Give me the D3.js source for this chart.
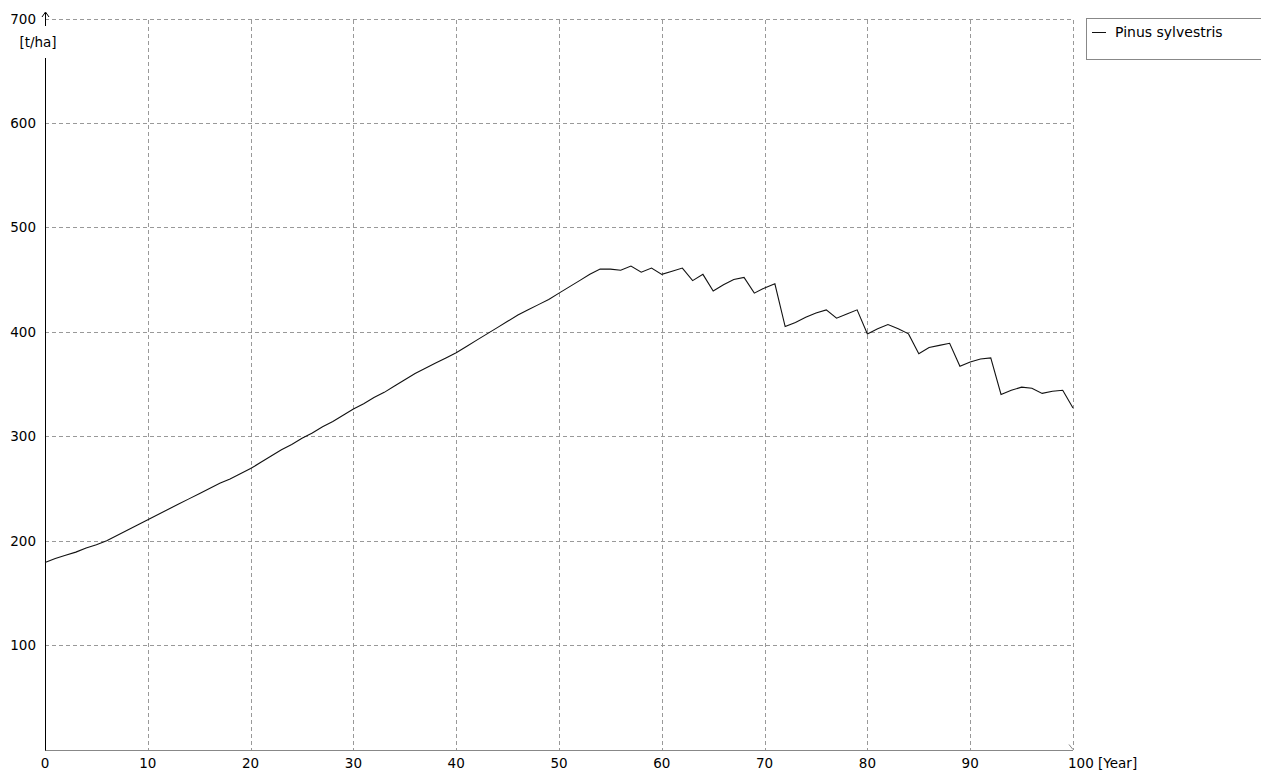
<!DOCTYPE html>
<html>
<head>
<meta charset="utf-8">
<script src="https://cdn.jsdelivr.net/npm/d3@7"></script>
<style>
  body { margin: 0; background: #fff; }
  svg text { font-family: "DejaVu Sans", sans-serif; font-size: 13px; fill: #000; }
</style>
</head>
<body>
<svg id="chart" width="1261" height="772"></svg>
<script>
// biomass of the stand, one value per simulated year
const seriesName = "Pinus sylvestris";
const biomass = [
  179, 183, 186, 189, 193, 196, 200, 205, 210, 215, 220,
  225, 230, 235, 240, 245, 250, 255, 259, 264, 269,
  275, 281, 287, 292, 298, 303, 309, 314, 320, 326,
  331, 337, 342, 348, 354, 360, 365, 370, 375, 380,
  386, 392, 398, 404, 410, 416, 421, 426, 431, 437,
  443, 449, 455, 460, 460, 459, 463, 457, 461, 455,
  458, 461, 449, 455, 439, 445, 450, 452, 437, 442,
  446, 405, 409, 414, 418, 421, 413, 417, 421, 398,
  403, 407, 403, 398, 379, 385, 387, 389, 367, 371,
  374, 375, 340, 344, 347, 346, 341, 343, 344, 327
];
const xTicks = [0, 10, 20, 30, 40, 50, 60, 70, 80, 90, 100];
const yTicks = [100, 200, 300, 400, 500, 600, 700];
const xUnit = "[Year]";
const yUnit = "[t/ha]";

// plot area
const plotLeft = 45, plotRight = 1073, plotTop = 18.5, plotBottom = 749.5;

const svg = d3.select("#chart");

const x = d3.scaleLinear().domain([0, 100]).range([plotLeft, plotRight]);
const y = d3.scaleLinear().domain([0, 700]).range([plotBottom, plotTop]);

// dashed grid
const grid = svg.append("g").attr("stroke", "#999").attr("stroke-dasharray", "4,3")
  .attr("shape-rendering", "crispEdges");
grid.selectAll(".vgrid")
  .data(xTicks.slice(1))
  .enter().append("line")
  .attr("x1", d => Math.round(x(d)) + 0.5)
  .attr("x2", d => Math.round(x(d)) + 0.5)
  .attr("y1", Math.round(y(700)) + 0.5)
  .attr("y2", plotBottom);
grid.selectAll(".hgrid")
  .data(yTicks)
  .enter().append("line")
  .attr("y1", d => Math.round(y(d)) + 0.5)
  .attr("y2", d => Math.round(y(d)) + 0.5)
  .attr("x1", plotLeft)
  .attr("x2", plotRight);

// x axis (gray, with small arrow at the end)
svg.append("line")
  .attr("x1", plotLeft).attr("x2", plotRight)
  .attr("y1", Math.round(plotBottom) + 0.5).attr("y2", Math.round(plotBottom) + 0.5)
  .attr("stroke", "#888");
svg.append("path")
  .attr("d", `M${plotRight - 4},${plotBottom - 5}L${plotRight},${plotBottom}`)
  .attr("stroke", "#888").attr("fill", "none");

// x tick labels
svg.selectAll(".xlab")
  .data(xTicks)
  .enter().append("text")
  .attr("x", d => d === 100 ? x(d) - 5 : x(d))
  .attr("y", 768)
  .attr("text-anchor", d => d === 100 ? "start" : "middle")
  .style("font-size", "13.5px")
  .text(d => d === 100 ? d + " " + xUnit : d);

// y axis (black, arrow on top, unit label breaking it)
svg.append("line")
  .attr("x1", plotLeft + 0.5).attr("x2", plotLeft + 0.5)
  .attr("y1", 58).attr("y2", plotBottom + 1)
  .attr("stroke", "#000");
svg.append("path")
  .attr("d", `M${plotLeft + 0.5},13V26M${plotLeft - 3},17L${plotLeft + 0.5},12L${plotLeft + 4},17`)
  .attr("stroke", "#000").attr("fill", "none");
svg.append("text")
  .attr("x", 38).attr("y", 47)
  .attr("text-anchor", "middle")
  .style("font-size", "13.5px")
  .text(yUnit);

svg.selectAll(".ylab")
  .data(yTicks)
  .enter().append("text")
  .attr("x", 36)
  .attr("y", d => y(d) + 5)
  .attr("text-anchor", "end")
  .style("font-size", "13.5px")
  .text(d => d);

// the series
const line = d3.line()
  .x((d, i) => x(i))
  .y(d => y(d));
svg.append("path")
  .datum(biomass)
  .attr("d", line)
  .attr("fill", "none")
  .attr("stroke", "#111")
  .attr("stroke-width", 1.1);

// legend box, runs off the right edge
const legend = svg.append("g");
legend.append("rect")
  .attr("x", 1086.5).attr("y", 18.5)
  .attr("width", 200).attr("height", 41)
  .attr("fill", "#fff").attr("stroke", "#888");
legend.append("line")
  .attr("x1", 1092).attr("x2", 1106)
  .attr("y1", 32.5).attr("y2", 32.5)
  .attr("stroke", "#111");
legend.append("text")
  .attr("x", 1115).attr("y", 37)
  .style("font-size", "14px")
  .text(seriesName);
</script>
</body>
</html>
